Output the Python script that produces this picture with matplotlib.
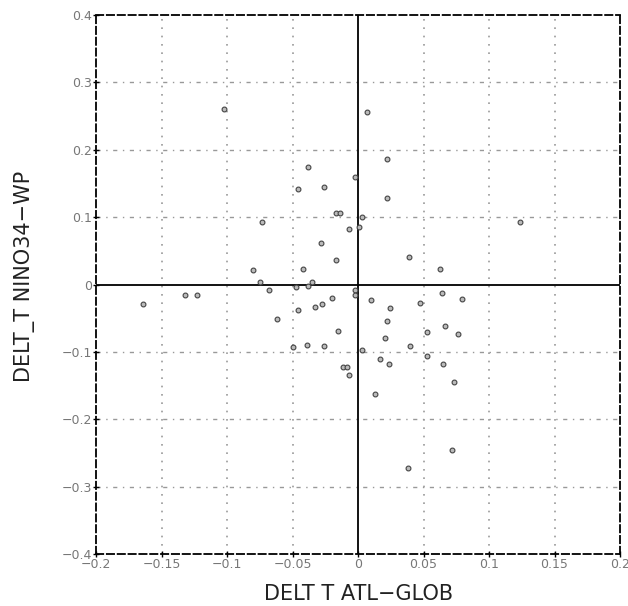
import matplotlib
matplotlib.use("Agg")
import matplotlib.pyplot as plt
from matplotlib.ticker import FixedLocator

plt.rcParams['font.family'] = ['DejaVu Sans']

# Data
atl_glob = [-0.102, 0.0072, -0.0385, 0.022, -0.046, -0.026, -0.002, 0.022,
            -0.017, -0.014, 0.003, -0.0067, 0.001, -0.073, -0.028, 0.124,
            -0.017, 0.0387, -0.080, -0.042, 0.0628, -0.075, -0.035, -0.038,
            -0.047, -0.068, -0.002, -0.0023, -0.132, -0.123, -0.164, -0.0195,
            -0.0275, -0.0325, -0.0456, -0.0615, -0.015, -0.0495, -0.039, -0.026,
            -0.0118, -0.0087, -0.0067, 0.0028, 0.0103, 0.0246, 0.047, 0.0638,
            0.0795, 0.022, 0.0664, 0.0523, 0.0764, 0.0208, 0.0395, 0.053,
            0.017, 0.0233, 0.0646, 0.0736, 0.0133, 0.0718, 0.0385]
nino_wp = [0.261, 0.256, 0.175, 0.186, 0.142, 0.144, 0.159, 0.129,
           0.106, 0.106, 0.0995, 0.083, 0.0855, 0.0925, 0.0615, 0.0925,
           0.037, 0.0415, 0.022, 0.0235, 0.023, 0.003, 0.003, -0.0015,
           -0.004, -0.0075, -0.0075, -0.016, -0.0155, -0.015, -0.029, -0.020,
           -0.0285, -0.034, -0.0385, -0.0505, -0.0685, -0.0925, -0.0895, -0.0915,
           -0.122, -0.122, -0.1345, -0.097, -0.023, -0.035, -0.028, -0.0125,
           -0.0215, -0.0545, -0.062, -0.0705, -0.074, -0.0795, -0.091, -0.106,
           -0.111, -0.1175, -0.118, -0.144, -0.163, -0.245, -0.273]

xticks = [-0.2, -0.15, -0.1, -0.05, 0, 0.05, 0.1, 0.15, 0.2]
xticklabels = ['\u22120.2', '\u22120.15', '\u22120.1', '\u22120.05', '0', '0.05', '0.1', '0.15', '0.2']
yticks = [-0.4, -0.3, -0.2, -0.1, 0, 0.1, 0.2, 0.3, 0.4]
yticklabels = ['\u22120.4', '\u22120.3', '\u22120.2', '\u22120.1', '0', '0.1', '0.2', '0.3', '0.4']

W, H = 628, 606
fig = plt.figure(figsize=(W / 100, H / 100), dpi=100)
L, R, T, B = 96, 620, 15, 554
ax = fig.add_axes([L / W, 1 - B / H, (R - L) / W, (B - T) / H])

ax.set_xlim(-0.2, 0.2)
ax.set_ylim(-0.4, 0.4)

# grid
for xv in xticks[1:-1]:
    if xv != 0:
        ax.axvline(xv, color='#999999', linestyle=(0, (1, 4)), linewidth=1.2, zorder=1)
for yv in yticks[1:-1]:
    if yv != 0:
        ax.axhline(yv, color='#999999', linestyle=(0, (3, 4, 1, 4)), linewidth=1.0, zorder=1)

ax.axvline(0, color='black', linewidth=1.3, zorder=2)
ax.axhline(0, color='black', linewidth=1.3, zorder=2)

ax.scatter(atl_glob, nino_wp, s=12, facecolor='#bbbbbb', edgecolor='#444444',
           linewidths=0.8, zorder=3)

for sp in ax.spines.values():
    sp.set_linestyle((0, (4, 2)))
    sp.set_linewidth(1.3)
    sp.set_color('black')

ax.xaxis.set_major_locator(FixedLocator(xticks))
ax.yaxis.set_major_locator(FixedLocator(yticks))
ax.set_xticklabels(xticklabels)
ax.set_yticklabels(yticklabels)
ax.tick_params(axis='both', direction='inout', length=4, width=1, labelsize=9,
               labelcolor='#777777', pad=1)

fig.text(359 / W, 1 - 594 / H, 'DELT T ATL\u2212GLOB', fontsize=15, color='#222222',
         ha='center', va='center')
fig.text(25 / W, 1 - 276 / H, 'DELT_T NINO34\u2212WP', fontsize=15, color='#222222',
         ha='center', va='center', rotation=90)

fig.savefig('out.png', dpi=100)
